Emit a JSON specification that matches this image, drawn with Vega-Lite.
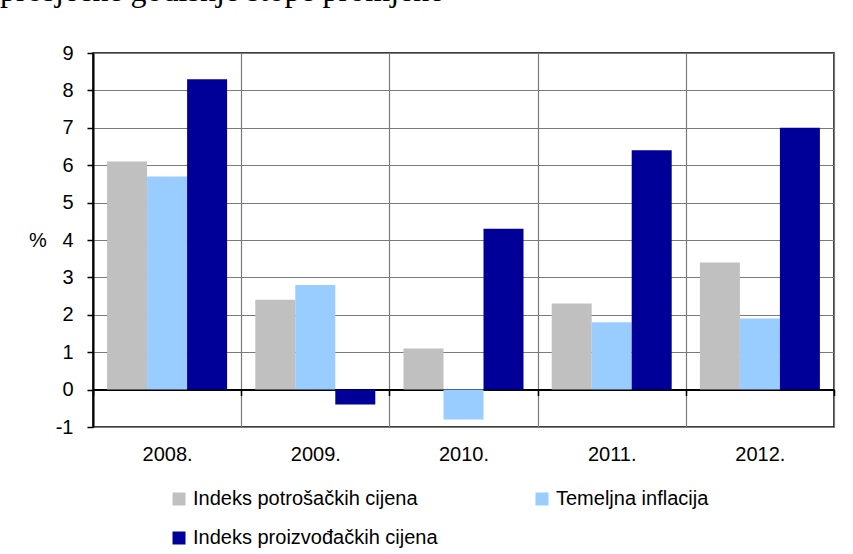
{
  "$schema": "https://vega.github.io/schema/vega-lite/v6.json",
  "width": 741,
  "height": 374,
  "autosize": "none",
  "padding": {"left": 93, "top": 53, "right": 19, "bottom": 127},
  "background": "white",
  "title": {
    "text": "prosječne godišnje stope promjene",
    "anchor": "start",
    "frame": "group",
    "font": "Liberation Serif",
    "fontSize": 32,
    "fontWeight": "normal",
    "color": "black",
    "baseline": "alphabetic",
    "offset": 10,
    "dx": -93
  },
  "config": {
    "view": {"stroke": "black", "strokeWidth": 1.5},
    "axis": {
      "labelFont": "Liberation Sans",
      "titleFont": "Liberation Sans",
      "labelColor": "black",
      "titleColor": "black"
    }
  },
  "data": {
    "values": [
      {"year": "2008.", "series": "Indeks potrošačkih cijena", "value": 6.1},
      {"year": "2008.", "series": "Temeljna inflacija", "value": 5.7},
      {"year": "2008.", "series": "Indeks proizvođačkih cijena", "value": 8.3},
      {"year": "2009.", "series": "Indeks potrošačkih cijena", "value": 2.4},
      {"year": "2009.", "series": "Temeljna inflacija", "value": 2.8},
      {"year": "2009.", "series": "Indeks proizvođačkih cijena", "value": -0.4},
      {"year": "2010.", "series": "Indeks potrošačkih cijena", "value": 1.1},
      {"year": "2010.", "series": "Temeljna inflacija", "value": -0.8},
      {"year": "2010.", "series": "Indeks proizvođačkih cijena", "value": 4.3},
      {"year": "2011.", "series": "Indeks potrošačkih cijena", "value": 2.3},
      {"year": "2011.", "series": "Temeljna inflacija", "value": 1.8},
      {"year": "2011.", "series": "Indeks proizvođačkih cijena", "value": 6.4},
      {"year": "2012.", "series": "Indeks potrošačkih cijena", "value": 3.4},
      {"year": "2012.", "series": "Temeljna inflacija", "value": 1.9},
      {"year": "2012.", "series": "Indeks proizvođačkih cijena", "value": 7.0}
    ]
  },
  "mark": {"type": "bar"},
  "encoding": {
    "x": {
      "field": "year",
      "type": "nominal",
      "scale": {"paddingInner": 0, "paddingOuter": 0},
      "axis": {
        "title": null,
        "orient": "bottom",
        "offset": -37.4,
        "labelAngle": 0,
        "labelFontSize": 20,
        "labelPadding": 49,
        "labelBaseline": "top",
        "domainColor": "black",
        "domainWidth": 2,
        "tickColor": "black",
        "tickSize": 6,
        "tickWidth": 1.5,
        "tickBand": "extent",
        "grid": true,
        "gridColor": "#7a7a7a",
        "gridWidth": 1.2
      }
    },
    "xOffset": {
      "field": "series",
      "type": "nominal",
      "sort": ["Indeks potrošačkih cijena", "Temeljna inflacija", "Indeks proizvođačkih cijena"],
      "scale": {"paddingInner": 0, "paddingOuter": 0.3525}
    },
    "y": {
      "field": "value",
      "type": "quantitative",
      "scale": {"domain": [-1, 9], "nice": false, "zero": false},
      "axis": {
        "title": "%",
        "titleAngle": 0,
        "titleFontSize": 20,
        "titleFontWeight": "normal",
        "titleBaseline": "middle",
        "titleAlign": "right",
        "titlePadding": 9,
        "values": [-1, 0, 1, 2, 3, 4, 5, 6, 7, 8, 9],
        "labelExpr": "'' + datum.value",
        "labelFontSize": 20,
        "labelPadding": 14,
        "domainColor": "black",
        "domainWidth": 2,
        "tickColor": "black",
        "tickSize": 6,
        "tickWidth": 1.5,
        "grid": true,
        "gridColor": "#7a7a7a",
        "gridWidth": 1.2
      }
    },
    "color": {
      "field": "series",
      "type": "nominal",
      "scale": {
        "domain": ["Indeks potrošačkih cijena", "Temeljna inflacija", "Indeks proizvođačkih cijena"],
        "range": ["#C0C0C0", "#99CCFF", "#000099"]
      },
      "legend": {
        "title": null,
        "orient": "none",
        "legendX": 76,
        "legendY": 436,
        "direction": "horizontal",
        "columns": 2,
        "columnPadding": 94,
        "rowPadding": 19,
        "symbolType": "square",
        "symbolSize": 169,
        "symbolStrokeWidth": 0,
        "symbolOpacity": 1,
        "labelFont": "Liberation Sans",
        "labelFontSize": 20,
        "labelColor": "black",
        "labelOffset": 4,
        "labelLimit": 400
      }
    }
  }
}
